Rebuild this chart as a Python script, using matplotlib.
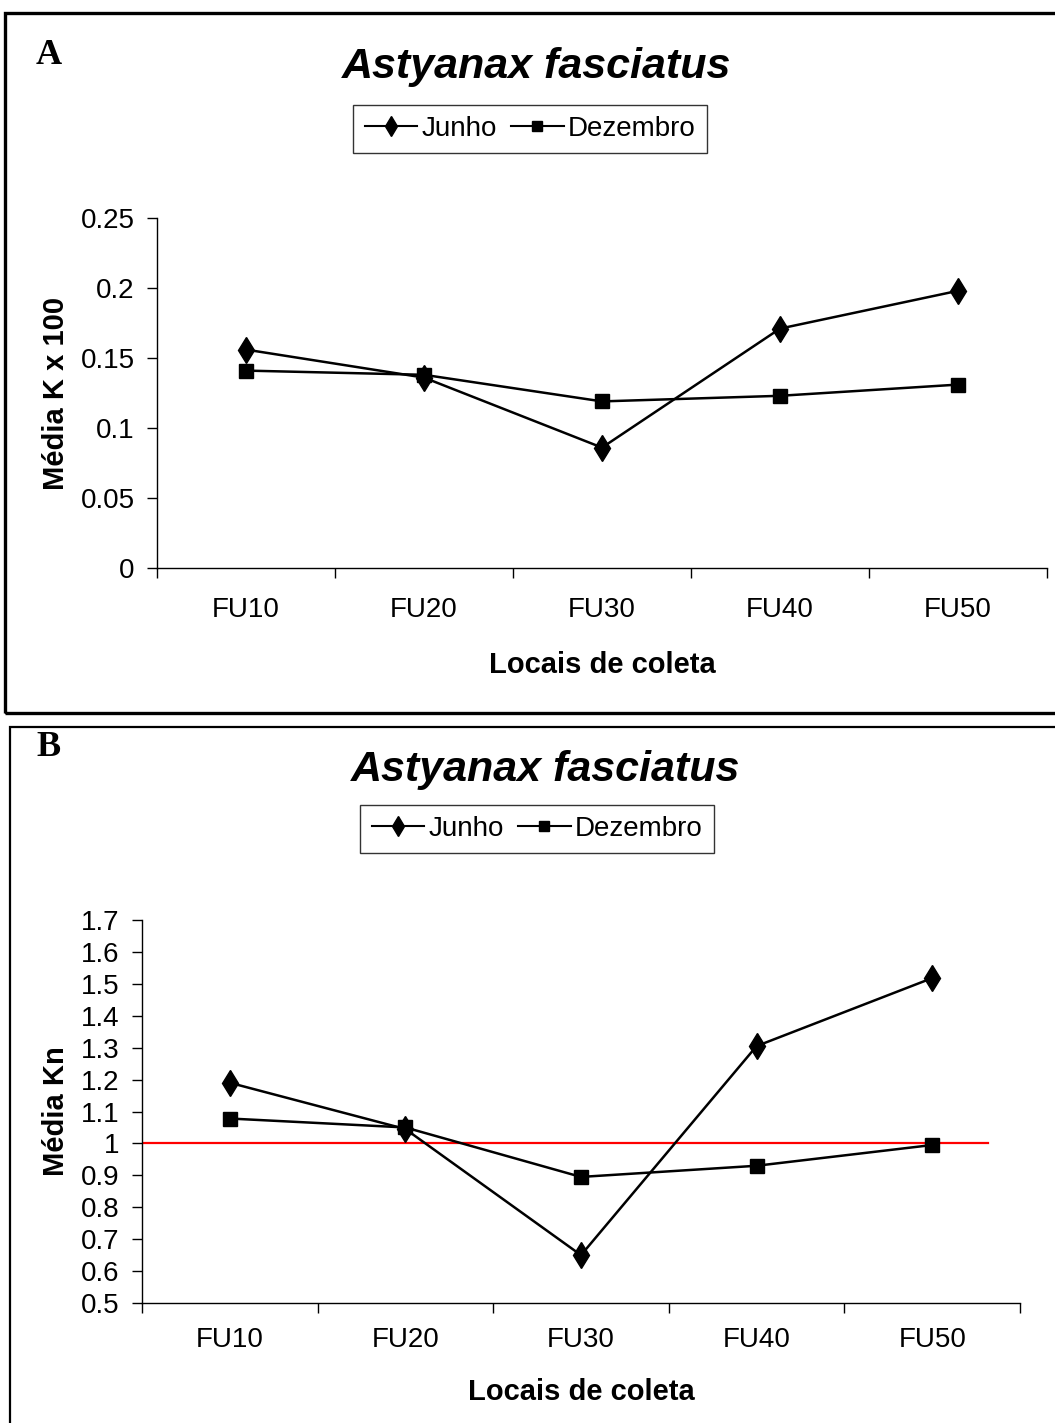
import matplotlib
matplotlib.use("Agg")
import matplotlib.pyplot as plt
from matplotlib.patches import Rectangle
from matplotlib.lines import Line2D

plt.rcParams['font.family'] = ['Liberation Sans', 'DejaVu Sans']

categories = ["FU10", "FU20", "FU30", "FU40", "FU50"]
junho_k = [0.156, 0.136, 0.086, 0.171, 0.198]
dezembro_k = [0.141, 0.138, 0.119, 0.123, 0.131]
junho_kn = [1.19, 1.045, 0.65, 1.305, 1.518]
dezembro_kn = [1.078, 1.05, 0.895, 0.93, 0.995]
yticks_a = [0, 0.05, 0.1, 0.15, 0.2, 0.25]
ytick_labels_a = ["0", "0.05", "0.1", "0.15", "0.2", "0.25"]
yticks_b = [0.5, 0.6, 0.7, 0.8, 0.9, 1.0, 1.1, 1.2, 1.3, 1.4, 1.5, 1.6, 1.7]
ytick_labels_b = ["0.5", "0.6", "0.7", "0.8", "0.9", "1", "1.1", "1.2", "1.3", "1.4", "1.5", "1.6", "1.7"]
reference_kn = 1.0

W, H = 1055, 1423
fig = plt.figure(figsize=(W / 100, H / 100), dpi=100)

# panel frames
fig.patches.append(Rectangle((5 / W, 1 - 713 / H), 1.2, 700 / H, transform=fig.transFigure,
                             fill=False, edgecolor='black', linewidth=2.4, zorder=0))
fig.patches.append(Rectangle((10 / W, -0.2), 1.2, 0.2 + 1 - 727 / H, transform=fig.transFigure,
                             fill=False, edgecolor='black', linewidth=1.6, zorder=0))

x = list(range(1, len(categories) + 1))


def style_axes(ax, yticks, ylabels, ylim, xpad, ypad):
    ax.set_xlim(0.5, len(categories) + 0.5)
    ax.set_ylim(*ylim)
    for s in ['top', 'right']:
        ax.spines[s].set_visible(False)
    for s in ['left', 'bottom']:
        ax.spines[s].set_linewidth(1.0)
    ax.set_xticks(x)
    ax.set_xticklabels(categories, fontsize=20)
    ax.set_xticks([i + 0.5 for i in range(len(categories) + 1)], minor=True)
    ax.tick_params(axis='x', which='major', length=0, pad=xpad)
    ax.tick_params(axis='x', which='minor', length=7, width=1.0, direction='out')
    ax.set_yticks(yticks)
    ax.set_yticklabels(ylabels, fontsize=20)
    ax.tick_params(axis='y', length=7, width=1.0, direction='out', pad=ypad)


def legend(ax, anchor):
    h = [Line2D([], [], color='black', lw=1.5, marker='d', markersize=10),
         Line2D([], [], color='black', lw=1.5, marker='s', markersize=7)]
    leg = fig.legend(h, ["Junho", "Dezembro"], loc='center', bbox_to_anchor=anchor,
                     ncol=2, frameon=True, fancybox=False, fontsize=20, handlelength=1.9,
                     handletextpad=0.15, columnspacing=0.5, borderpad=0.4, edgecolor='black')
    leg.get_frame().set_linewidth(1.0)


# Panel A
axA = fig.add_axes([157 / W, 1 - 568 / H, 890 / W, 350 / H])
axA.plot(x, junho_k, color='black', lw=1.8, marker='d', markersize=13, zorder=3)
axA.plot(x, dezembro_k, color='black', lw=1.8, marker='s', markersize=10, zorder=3)
style_axes(axA, yticks_a, ytick_labels_a, (0, 0.25), 21, 9)
axA.set_xlabel("Locais de coleta", fontsize=21, fontweight='bold', labelpad=20)
axA.set_ylabel("Média K x 100", fontsize=21, fontweight='bold', labelpad=8)
fig.text(537 / W, 1 - 67 / H, "Astyanax fasciatus", fontsize=31, fontweight='bold',
         fontstyle='italic', ha='center', va='center')
fig.text(36 / W, 1 - 55 / H, "A", fontsize=26, fontweight='bold', family='Liberation Serif',
         ha='left', va='center')
legend(axA, (530 / W, 1 - 129 / H))

# Panel B
axB = fig.add_axes([142 / W, 1 - 1303 / H, 878 / W, 383 / H])
axB.plot(x, junho_kn, color='black', lw=1.8, marker='d', markersize=13, zorder=3)
axB.plot(x, dezembro_kn, color='black', lw=1.8, marker='s', markersize=10, zorder=3)
axB.axhline(reference_kn, xmin=0, xmax=0.964, color='red', lw=1.6, zorder=2)
style_axes(axB, yticks_b, ytick_labels_b, (0.5, 1.7), 17, 9)
axB.set_xlabel("Locais de coleta", fontsize=21, fontweight='bold', labelpad=18)
axB.set_ylabel("Média Kn", fontsize=21, fontweight='bold', labelpad=8)
fig.text(546 / W, 1 - 770 / H, "Astyanax fasciatus", fontsize=31, fontweight='bold',
         fontstyle='italic', ha='center', va='center')
fig.text(36 / W, 1 - 748 / H, "B", fontsize=26, fontweight='bold', family='Liberation Serif',
         ha='left', va='center')
legend(axB, (537 / W, 1 - 829 / H))

fig.savefig("out.png", dpi=100)
